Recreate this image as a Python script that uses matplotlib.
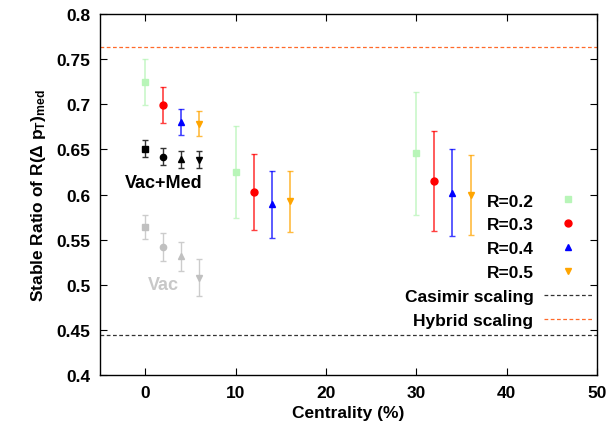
import matplotlib
matplotlib.use("Agg")
import matplotlib.pyplot as plt

plt.rcParams["font.family"] = ["Liberation Sans", "DejaVu Sans"]
plt.rcParams["font.weight"] = "bold"
plt.rcParams["mathtext.fontset"] = "custom"
plt.rcParams["mathtext.rm"] = "Liberation Sans:bold"
plt.rcParams["mathtext.it"] = "Liberation Sans:bold"
plt.rcParams["mathtext.bf"] = "Liberation Sans:bold"

# centrality bins and per-R horizontal offsets
centrality = [0, 10, 30]
r_offset = [0, 2, 4, 6]
r_labels = ["R=0.2", "R=0.3", "R=0.4", "R=0.5"]

# medium-only ratios (per R, per centrality)
med_y = [
    [0.7245, 0.625, 0.6455],
    [0.699, 0.6025, 0.615],
    [0.680, 0.589, 0.602],
    [0.6785, 0.5925, 0.5995],
]
med_err = [
    [0.0255, 0.051, 0.068],
    [0.020, 0.042, 0.055],
    [0.0145, 0.037, 0.0485],
    [0.014, 0.034, 0.044],
]

# vacuum+medium and vacuum-only at 0% centrality
vacmed_y = [0.6507, 0.642, 0.6392, 0.6385]
vacmed_err = [0.0093, 0.009, 0.0093, 0.0093]
vac_y = [0.5642, 0.5417, 0.5314, 0.5077]
vac_err = [0.0133, 0.0157, 0.016, 0.0207]

casimir = 4.0 / 9.0
hybrid = 0.763

colors = ["#b8f5b8", "#ff0000", "#0000ff", "#ffa500"]
markers = ["s", "o", "^", "v"]
msizes = [5, 5, 4.5, 5]

fig = plt.figure(figsize=(6.16, 4.27), dpi=100)
ax = fig.add_axes([0.1623, 0.1194, 0.8069, 0.8455])

for i in range(4):
    xs = [c + r_offset[i] for c in centrality]
    ax.errorbar(xs, med_y[i], yerr=med_err[i], fmt="none", ecolor=colors[i],
                alpha=0.75, elinewidth=1.2, capsize=2.2, capthick=1.0)
    ax.plot(xs, med_y[i], linestyle="none", marker=markers[i], color=colors[i],
            markersize=msizes[i], label=r_labels[i])

    x0 = centrality[0] + r_offset[i]
    ax.errorbar([x0], [vacmed_y[i]], yerr=[vacmed_err[i]], fmt="none", ecolor="#333333",
                elinewidth=1.0, capsize=2.2, capthick=1.0)
    ax.plot([x0], [vacmed_y[i]], linestyle="none", marker=markers[i], color="black",
            markersize=msizes[i] - 0.5)
    ax.errorbar([x0], [vac_y[i]], yerr=[vac_err[i]], fmt="none", ecolor="#cccccc",
                elinewidth=1.0, capsize=2.2, capthick=1.0)
    ax.plot([x0], [vac_y[i]], linestyle="none", marker=markers[i], color="#c0c0c0",
            markersize=msizes[i] - 0.5)

ax.axhline(casimir, color="#333333", linestyle=(0, (3, 2)), linewidth=0.9,
           label="Casimir scaling")
ax.axhline(hybrid, color="#ff6a2a", linestyle=(0, (3, 2)), linewidth=0.9,
           label="Hybrid scaling")

ax.text(2.1, 0.613, "Vac+Med", ha="center", va="center", fontsize=13,
        fontweight="bold", color="black")
ax.text(2.0, 0.5007, "Vac", ha="center", va="center", fontsize=13,
        fontweight="bold", color="#c8c8c8")

ax.set_xlim(-5, 50)
ax.set_ylim(0.4, 0.8)
ax.set_xticks([0, 10, 20, 30, 40, 50])
ax.set_yticks([0.4, 0.45, 0.5, 0.55, 0.6, 0.65, 0.7, 0.75, 0.8])
ax.set_yticklabels(["0.4", "0.45", "0.5", "0.55", "0.6", "0.65", "0.7", "0.75", "0.8"])
ax.tick_params(direction="in", top=True, right=True, length=5, width=0.8,
               labelsize=12.5, pad=7)
for lab in ax.get_xticklabels() + ax.get_yticklabels():
    lab.set_fontweight("bold")
for sp in ax.spines.values():
    sp.set_linewidth(1.0)

ax.set_xlabel("Centrality (%)", fontsize=12.5, fontweight="bold", labelpad=4)
ax.set_ylabel(r"Stable Ratio of R($\Delta$ p$_{\mathrm{T}}$)$_{\mathrm{med}}$",
              fontsize=12.5, fontweight="bold", labelpad=6)

leg = ax.legend(loc="upper right", bbox_to_anchor=(0.99, 0.503), frameon=False,
                markerfirst=False, fontsize=12.5, handlelength=2.75,
                handletextpad=0.63, labelspacing=0.5, borderpad=0, borderaxespad=0)
for t in leg.get_texts():
    t.set_fontweight("bold")

fig.savefig("out.png", dpi=100)
